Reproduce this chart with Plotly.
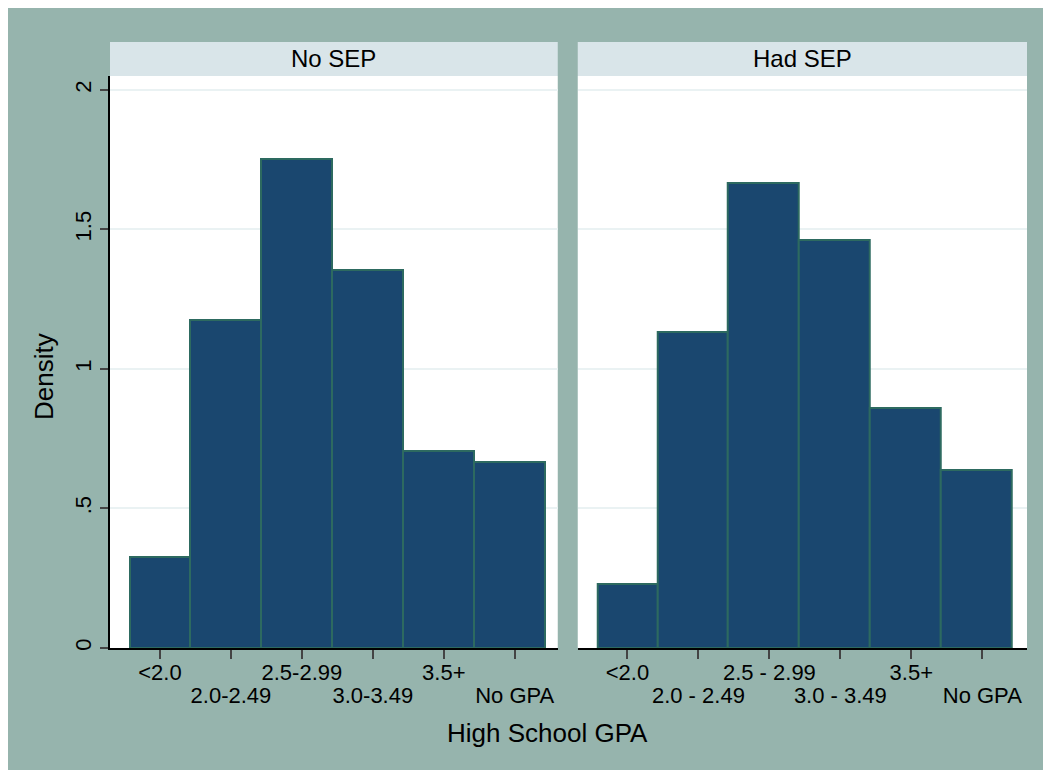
import plotly.graph_objects as go

# ---------------- data ----------------
panels = ["No SEP", "Had SEP"]
tick_positions = [1, 2, 3, 4, 5, 6]
labels_no_sep = ["<2.0", "2.0-2.49", "2.5-2.99", "3.0-3.49", "3.5+", "No GPA"]
labels_had_sep = ["<2.0", "2.0 - 2.49", "2.5 - 2.99", "3.0 - 3.49", "3.5+", "No GPA"]
bin_edges = [0.58, 1.43, 2.42, 3.42, 4.42, 5.42, 6.42]
density_no_sep = [0.327, 1.176, 1.753, 1.355, 0.706, 0.667]
density_had_sep = [0.229, 1.133, 1.667, 1.462, 0.860, 0.638]
y_ticks = [0, 0.5, 1, 1.5, 2]
y_ticktext = ["0", ".5", "1", "1.5", "2"]

# ---------------- style ----------------
W, H = 1051, 770
ML, MR, MT, MB = 102, 31.5, 68, 130
PW = W - ML - MR
PH = H - MT - MB
BG = "#96b4ad"
STRIP = "#d9e5e9"
GRID = "#eaf2f3"
BAR = "#1a476f"
BAR_LINE = "#2d6a60"
FONT = "Liberation Sans, Arial, Helvetica, sans-serif"

centers = [(bin_edges[i] + bin_edges[i + 1]) / 2 for i in range(len(bin_edges) - 1)]
widths = [bin_edges[i + 1] - bin_edges[i] for i in range(len(bin_edges) - 1)]

fig = go.Figure()
for k, dens in enumerate([density_no_sep, density_had_sep]):
    xa = "x" if k == 0 else "x2"
    ya = "y" if k == 0 else "y2"
    fig.add_trace(go.Bar(
        x=centers, y=dens, width=widths, xaxis=xa, yaxis=ya,
        marker=dict(color=BAR, line=dict(color=BAR_LINE, width=2)),
        showlegend=False, hoverinfo="skip",
    ))
# empty traces to anchor the overlay axes (second row of tick labels)
fig.add_trace(go.Scatter(x=[], y=[], xaxis="x3", yaxis="y", showlegend=False))
fig.add_trace(go.Scatter(x=[], y=[], xaxis="x4", yaxis="y2", showlegend=False))

d1 = [0, 448 / PW]
d2 = [468 / PW, 1]
xr1 = [0.296, 6.606]
xr2 = [0.30, 6.63]
yr = [0, 2.05]

def row1(labels):
    return [t if i % 2 == 0 else "" for i, t in enumerate(labels)]

def row2(labels):
    return [t for i, t in enumerate(labels) if i % 2 == 1]

xcommon = dict(
    showgrid=False, zeroline=False, showline=True, linecolor="black", linewidth=2,
    ticks="outside", ticklen=9, tickwidth=1.5, tickcolor="#444",
    tickfont=dict(family=FONT, size=22, color="black"), tickangle=0,
    ticklabelstandoff=-5,
)
ovcommon = dict(
    showgrid=False, zeroline=False, showline=False,
    ticks="outside", ticklen=32, tickwidth=1, tickcolor="rgba(0,0,0,0)",
    tickfont=dict(family=FONT, size=22, color="black"), tickangle=0,
    ticklabelstandoff=-4,
)

fig.update_layout(
    width=W, height=H,
    margin=dict(l=ML, r=MR, t=MT, b=MB, pad=0),
    paper_bgcolor=BG, plot_bgcolor="white",
    bargap=0,
    font=dict(family=FONT, color="black"),
    xaxis=dict(domain=d1, range=xr1, anchor="y", tickvals=tick_positions,
               ticktext=row1(labels_no_sep), **xcommon),
    xaxis2=dict(domain=d2, range=xr2, anchor="y2", tickvals=tick_positions,
                ticktext=row1(labels_had_sep), **xcommon),
    xaxis3=dict(domain=d1, range=xr1, anchor="y", overlaying="x",
                tickvals=tick_positions[1::2], ticktext=row2(labels_no_sep), **ovcommon),
    xaxis4=dict(domain=d2, range=xr2, anchor="y2", overlaying="x2",
                tickvals=tick_positions[1::2], ticktext=row2(labels_had_sep), **ovcommon),
    yaxis=dict(domain=[0, 1], range=yr, anchor="x", tickvals=y_ticks, ticktext=y_ticktext,
               showgrid=True, gridcolor=GRID, gridwidth=1.5, zeroline=False,
               showline=True, linecolor="black", linewidth=2,
               ticks="outside", ticklen=8, tickwidth=1.5, tickcolor="#444",
               tickangle=-90, tickfont=dict(family=FONT, size=22, color="black")),
    yaxis2=dict(domain=[0, 1], range=yr, anchor="x2", tickvals=y_ticks,
                showticklabels=False, showgrid=True, gridcolor=GRID, gridwidth=1.5,
                zeroline=False, showline=False, ticks=""),
)

shapes = []
annotations = []
strip_h = 34 / PH
for k, name in enumerate(panels):
    xd = "x domain" if k == 0 else "x2 domain"
    shapes.append(dict(type="rect", xref=xd, yref="paper", x0=0, x1=1, y0=1, y1=1 + strip_h,
                       fillcolor=STRIP, line=dict(width=0), layer="below"))
    annotations.append(dict(text=name, xref=xd, yref="paper", x=0.5, y=1 + strip_h / 2,
                            xanchor="center", yanchor="middle", showarrow=False,
                            font=dict(family=FONT, size=24, color="black")))

annotations.append(dict(text="High School GPA", xref="paper", yref="paper",
                        x=(540 - ML) / PW, y=(640 - 725) / PH, xanchor="center", yanchor="middle",
                        showarrow=False, font=dict(family=FONT, size=26, color="black")))
annotations.append(dict(text="Density", xref="paper", yref="paper", textangle=-90,
                        x=(36 - ML) / PW, y=(640 - 369) / PH, xanchor="center", yanchor="middle",
                        showarrow=False, font=dict(family=FONT, size=26, color="black")))

fig.update_layout(shapes=shapes, annotations=annotations)
fig.write_html("out.html")
